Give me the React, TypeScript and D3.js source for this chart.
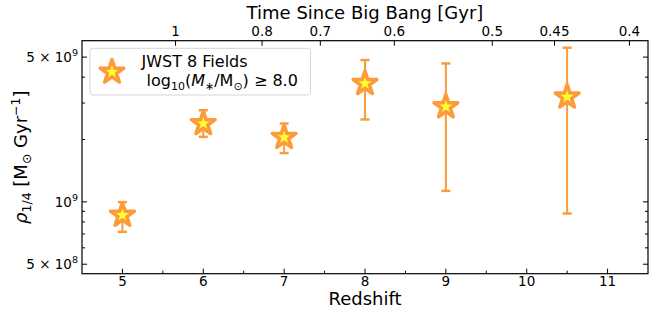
import * as d3 from "d3";
import React from "react";

const redshift = [5, 6, 7, 8, 9, 10.5];
const rho = [8.63e8, 2.39e9, 2.05e9, 3.73e9, 2.88e9, 3.21e9];
const rhoLo = [7.17e8, 2.06e9, 1.72e9, 2.5e9, 1.13e9, 8.79e8];
const rhoHi = [9.97e8, 2.77e9, 2.39e9, 4.84e9, 4.66e9, 5.55e9];

const zTicks = [5, 6, 7, 8, 9, 10, 11];
const zMinorTicks = [5.5, 6.5, 7.5, 8.5, 9.5, 10.5];
const ageTicks = [1, 0.8, 0.7, 0.6, 0.5, 0.45, 0.4];
const yMajorTicks = [5e8, 1e9, 5e9];
const yMajorMantissa = ["5 × 10", "10", "5 × 10"];
const yMajorExp = ["8", "9", "9"];
const yMinorTicks = [6e8, 7e8, 8e8, 9e8, 2e9, 3e9, 4e9];

// flat LCDM, to place the age ticks on the redshift axis
const H0 = 67.7;
const Om = 0.3135;
const OL = 1 - Om;
const hubbleTime = 977.8 / H0; // Gyr
const ageToZ = (t: number) => {
  const s = Math.sinh((t * 3 * Math.sqrt(OL)) / (2 * hubbleTime));
  return Math.pow(Math.sqrt(OL / Om) / s, 2 / 3) - 1;
};

const W = 649;
const H = 316;
const margin = { top: 40.7, right: 1, bottom: 42.3, left: 82 };

const ORANGE = "#fd9a3a";
const YELLOW = "#ffff33";
const FONT = "DejaVu Sans, sans-serif";

const App = () => {
  const x = d3.scaleLinear().domain([4.5, 11.5]).range([margin.left, W - margin.right]);
  const y = d3.scaleLog().domain([4.5e8, 6e9]).range([H - margin.bottom, margin.top]);
  const x0 = x.range()[0];
  const x1 = x.range()[1];
  const yb = y.range()[0];
  const yt = y.range()[1];

  const star = d3.symbol().type(d3.symbolStar).size(175)();
  const cap = 4.5;

  return (
    <svg width={W} height={H} style={{ position: "absolute", left: 0, top: 0, fontFamily: FONT }}>
      <rect width={W} height={H} fill="white" />

      {/* error bars and markers */}
      {redshift.map((z, i) => (
        <g key={"e" + i} stroke={ORANGE} strokeWidth={2}>
          <line x1={x(z)} x2={x(z)} y1={y(rhoLo[i])} y2={y(rhoHi[i])} />
          <line x1={x(z) - cap} x2={x(z) + cap} y1={y(rhoLo[i])} y2={y(rhoLo[i])} strokeWidth={2.5} />
          <line x1={x(z) - cap} x2={x(z) + cap} y1={y(rhoHi[i])} y2={y(rhoHi[i])} strokeWidth={2.5} />
        </g>
      ))}
      {redshift.map((z, i) => (
        <path
          key={"s" + i}
          d={star || ""}
          transform={`translate(${x(z)},${y(rho[i])})`}
          fill={YELLOW}
          stroke={ORANGE}
          strokeWidth={3.5}
          strokeLinejoin="round"
        />
      ))}

      {/* frame */}
      <rect x={x0} y={yt} width={x1 - x0} height={yb - yt} fill="none" stroke="black" strokeWidth={1.2} />

      {/* bottom axis */}
      {zTicks.map((t) => (
        <g key={"zt" + t}>
          <line x1={x(t)} x2={x(t)} y1={yb} y2={yb - 5} stroke="black" />
          <text x={x(t)} y={yb + 11.8} textAnchor="middle" fontSize={13.5}>
            {t}
          </text>
        </g>
      ))}
      {zMinorTicks.map((t) => (
        <line key={"zm" + t} x1={x(t)} x2={x(t)} y1={yb} y2={yb - 3} stroke="black" />
      ))}
      <text x={(x0 + x1) / 2} y={304.5} textAnchor="middle" fontSize={18}>
        Redshift
      </text>

      {/* top axis: age of the universe */}
      {ageTicks.map((t) => (
        <g key={"at" + t}>
          <line x1={x(ageToZ(t))} x2={x(ageToZ(t))} y1={yt} y2={yt + 5} stroke="black" />
          <text x={x(ageToZ(t))} y={yt - 5} textAnchor="middle" fontSize={13.5}>
            {t}
          </text>
        </g>
      ))}
      <text x={(x0 + x1) / 2} y={19} textAnchor="middle" fontSize={18}>
        Time Since Big Bang [Gyr]
      </text>

      {/* y axis, ticks on both sides */}
      {yMajorTicks.map((v, i) => (
        <g key={"ym" + v}>
          <line x1={x0} x2={x0 + 5} y1={y(v)} y2={y(v)} stroke="black" />
          <line x1={x1} x2={x1 - 5} y1={y(v)} y2={y(v)} stroke="black" />
          <text x={78} y={y(v) + 5} textAnchor="end" fontSize={13.5}>
            {yMajorMantissa[i]}
            <tspan dy={-6} fontSize={9.5}>
              {yMajorExp[i]}
            </tspan>
          </text>
        </g>
      ))}
      {yMinorTicks.map((v) => (
        <g key={"yn" + v}>
          <line x1={x0} x2={x0 + 3} y1={y(v)} y2={y(v)} stroke="black" />
          <line x1={x1} x2={x1 - 3} y1={y(v)} y2={y(v)} stroke="black" />
        </g>
      ))}
      <text transform={`translate(27,${(yb + yt) / 2}) rotate(-90)`} textAnchor="middle" fontSize={18}>
        <tspan fontStyle="italic">ρ</tspan>
        <tspan dy={4} fontSize={12.5}>1/4</tspan>
        <tspan dy={-4}> [M</tspan>
        <tspan dy={4} fontSize={12.5}>⊙</tspan>
        <tspan dy={-4}> Gyr</tspan>
        <tspan dy={-7} fontSize={12.5}>−1</tspan>
        <tspan dy={7}>]</tspan>
      </text>

      {/* legend */}
      <rect x={90} y={48.3} width={220.5} height={46.7} rx={3} fill="white" fillOpacity={0.8} stroke="#d5d5d5" />
      <path
        d={star || ""}
        transform="translate(112,72)"
        fill={YELLOW}
        stroke={ORANGE}
        strokeWidth={3.5}
        strokeLinejoin="round"
      />
      <text x={141.5} y={67.3} fontSize={16}>
        JWST 8 Fields
      </text>
      <text x={146.5} y={86} fontSize={16}>
        log
        <tspan dy={4} fontSize={11}>10</tspan>
        <tspan dy={-4}>(</tspan>
        <tspan fontStyle="italic">M</tspan>
        <tspan dy={4} fontSize={11}>∗</tspan>
        <tspan dy={-4}>/M</tspan>
        <tspan dy={4} fontSize={11}>⊙</tspan>
        <tspan dy={-4}>) ≥ 8.0</tspan>
      </text>
    </svg>
  );
};

export default App;
